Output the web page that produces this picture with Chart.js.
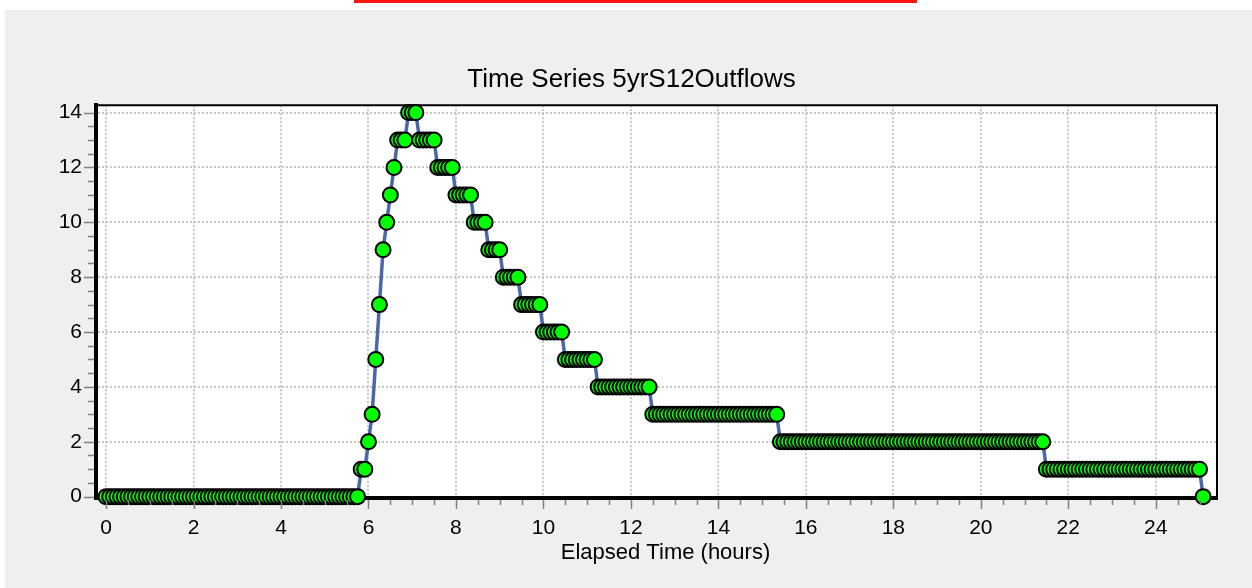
<!DOCTYPE html>
<html>
<head>
<meta charset="utf-8">
<title>Time Series 5yrS12Outflows</title>
<script src="https://cdn.jsdelivr.net/npm/chart.js@4.4.1/dist/chart.umd.min.js"></script>
<style>
  html, body { margin: 0; padding: 0; background: #fff; }
  body { width: 1252px; height: 588px; position: relative; overflow: hidden; }
  #panel { position: absolute; left: 5px; top: 10px; right: 0; bottom: 0; background: #efefef; }
  #marker { position: absolute; left: 354px; top: 0; width: 563px; height: 3px; background: #ff1414; }
  #chart { position: absolute; left: 0; top: 0; }
</style>
</head>
<body>
<div id="panel"></div>
<div id="marker"></div>
<canvas id="chart" width="1252" height="588"></canvas>
<script>
// outflow readings every 5 minutes, one row per hour (hour 0 .. hour 25)
const stepMinutes = 5;
const outflow = [
    0, 0, 0, 0, 0, 0, 0, 0, 0, 0, 0, 0,
    0, 0, 0, 0, 0, 0, 0, 0, 0, 0, 0, 0,
    0, 0, 0, 0, 0, 0, 0, 0, 0, 0, 0, 0,
    0, 0, 0, 0, 0, 0, 0, 0, 0, 0, 0, 0,
    0, 0, 0, 0, 0, 0, 0, 0, 0, 0, 0, 0,
    0, 0, 0, 0, 0, 0, 0, 0, 0, 0, 1, 1,
    2, 3, 5, 7, 9, 10, 11, 12, 13, 13, 13, 14,
    14, 14, 13, 13, 13, 13, 13, 12, 12, 12, 12, 12,
    11, 11, 11, 11, 11, 10, 10, 10, 10, 9, 9, 9,
    9, 8, 8, 8, 8, 8, 7, 7, 7, 7, 7, 7,
    6, 6, 6, 6, 6, 6, 5, 5, 5, 5, 5, 5,
    5, 5, 5, 4, 4, 4, 4, 4, 4, 4, 4, 4,
    4, 4, 4, 4, 4, 4, 3, 3, 3, 3, 3, 3,
    3, 3, 3, 3, 3, 3, 3, 3, 3, 3, 3, 3,
    3, 3, 3, 3, 3, 3, 3, 3, 3, 3, 3, 3,
    3, 3, 3, 3, 3, 2, 2, 2, 2, 2, 2, 2,
    2, 2, 2, 2, 2, 2, 2, 2, 2, 2, 2, 2,
    2, 2, 2, 2, 2, 2, 2, 2, 2, 2, 2, 2,
    2, 2, 2, 2, 2, 2, 2, 2, 2, 2, 2, 2,
    2, 2, 2, 2, 2, 2, 2, 2, 2, 2, 2, 2,
    2, 2, 2, 2, 2, 2, 2, 2, 2, 2, 2, 2,
    2, 2, 2, 2, 2, 2, 1, 1, 1, 1, 1, 1,
    1, 1, 1, 1, 1, 1, 1, 1, 1, 1, 1, 1,
    1, 1, 1, 1, 1, 1, 1, 1, 1, 1, 1, 1,
    1, 1, 1, 1, 1, 1, 1, 1, 1, 1, 1, 1,
    1, 0
];

const xRange = [-0.23, 25.4];
const yRange = [-0.05, 14.27];
const majorStep = 2;
const minorStep = 0.5;
const xTitle = 'Elapsed Time (hours)';

const FONT = '"Liberation Sans", Arial, Helvetica, sans-serif';

// white plot background and thin top/right frame
const plotBg = {
    id: 'plotBg',
    beforeDraw(chart) {
        const { ctx, chartArea: a } = chart;
        ctx.save();
        ctx.fillStyle = '#ffffff';
        ctx.fillRect(a.left, a.top, a.right - a.left, a.bottom - a.top);
        ctx.restore();
    },
    beforeDatasetsDraw(chart) {
        const { ctx, chartArea: a } = chart;
        ctx.save();
        ctx.strokeStyle = '#000';
        ctx.lineWidth = 2;
        ctx.beginPath();
        ctx.moveTo(a.left, a.top);
        ctx.lineTo(a.right, a.top);
        ctx.lineTo(a.right, a.bottom);
        ctx.stroke();
        ctx.restore();
    }
};

// major and minor tick marks outside the axes, plus the x axis caption
const tickMarks = {
    id: 'tickMarks',
    afterDraw(chart) {
        const { ctx, chartArea: a } = chart;
        const xs = chart.scales.x, ys = chart.scales.y;
        ctx.save();
        ctx.strokeStyle = '#808080';
        ctx.lineWidth = 1.5;
        ctx.beginPath();
        for (let v = 0; v <= xs.max; v += minorStep) {
            const px = Math.round(xs.getPixelForValue(v)) + 0.5;
            const len = v % majorStep === 0 ? 9 : 5;
            ctx.moveTo(px, a.bottom + 2);
            ctx.lineTo(px, a.bottom + 2 + len);
        }
        for (let v = 0; v <= ys.max; v += minorStep) {
            const py = Math.round(ys.getPixelForValue(v)) + 0.5;
            const len = v % majorStep === 0 ? 10 : 6;
            ctx.moveTo(a.left - 2, py);
            ctx.lineTo(a.left - 2 - len, py);
        }
        ctx.stroke();

        ctx.fillStyle = '#000';
        ctx.font = '22px ' + FONT;
        ctx.textAlign = 'center';
        ctx.textBaseline = 'middle';
        ctx.fillText(xTitle, (a.left + a.right) / 2 + 9, 553);
        ctx.restore();
    }
};

const points = outflow.map((v, i) => ({ x: i * stepMinutes / 60, y: v }));

new Chart(document.getElementById('chart'), {
    type: 'line',
    data: {
        datasets: [{
            label: '5yrS12Outflows',
            data: points,
            borderColor: '#4a68a8',
            borderWidth: 3.5,
            pointRadius: 7.5,
            pointBackgroundColor: '#00ff00',
            pointBorderColor: '#000000',
            pointBorderWidth: 2,
            tension: 0,
            clip: false
        }]
    },
    options: {
        responsive: false,
        animation: false,
        devicePixelRatio: 1,
        layout: { padding: { top: 64, right: 35, bottom: 25, left: 46 } },
        plugins: {
            legend: { display: false },
            tooltip: { enabled: false },
            title: {
                display: true,
                text: 'Time Series 5yrS12Outflows',
                color: '#000',
                font: { family: FONT, size: 26, weight: 'normal' },
                padding: { top: 0, bottom: 10 }
            }
        },
        scales: {
            x: {
                type: 'linear',
                min: xRange[0],
                max: xRange[1],
                afterFit(scale) { scale.height = 65; },
                grid: { color: '#c6c6c6', lineWidth: 2, drawTicks: false },
                border: { display: true, color: '#000', width: 4, dash: [2, 2] },
                ticks: {
                    stepSize: majorStep,
                    includeBounds: false,
                    autoSkip: false,
                    maxRotation: 0,
                    padding: 18,
                    color: '#000',
                    font: { family: FONT, size: 21 }
                }
            },
            y: {
                type: 'linear',
                min: yRange[0],
                max: yRange[1],
                afterFit(scale) { scale.width = 50; },
                grid: { color: '#c6c6c6', lineWidth: 2, drawTicks: false },
                border: { display: true, color: '#000', width: 4, dash: [2, 2] },
                ticks: {
                    stepSize: majorStep,
                    includeBounds: false,
                    padding: 14,
                    color: '#000',
                    font: { family: FONT, size: 21 }
                }
            }
        }
    },
    plugins: [plotBg, tickMarks]
});
</script>
</body>
</html>
